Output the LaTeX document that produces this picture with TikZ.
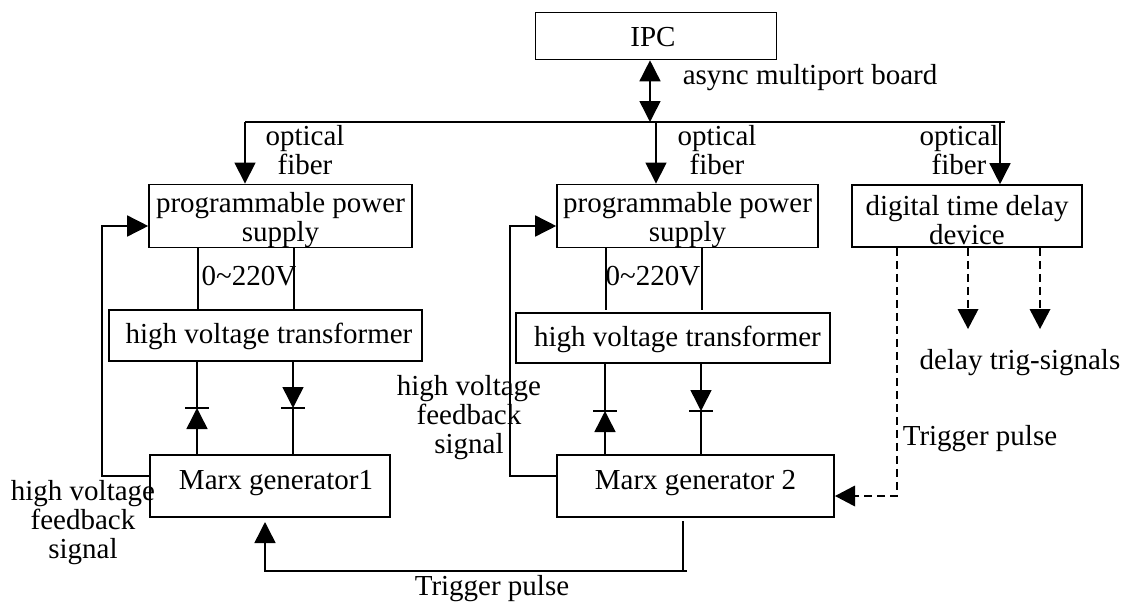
\documentclass[tikz,border=0pt]{standalone}
\usepackage{fontspec}
\setmainfont{Liberation Serif}
\usetikzlibrary{calc,arrows.meta}
\newcommand{\off}[3]{\raisebox{#2}[0pt][0pt]{\makebox[0pt][c]{\hspace*{#1}#3}}}
\newcommand{\lowfirst}{\rule{0pt}{28pt}}
\tikzset{
  x=1pt,y=-1pt,
  txt/.style={font=\fontsize{29}{29}\selectfont,inner sep=0pt,align=center},
  lbl/.style={txt,anchor=base},
  box/.style={txt,draw=black,line width=1.6pt,rectangle},
  wire/.style={draw=black,line width=1.5pt},
  tip/.style={-{Triangle[length=21pt,width=21pt]}},
  dtip/.style={{Triangle[length=21pt,width=21pt]}-{Triangle[length=21pt,width=21pt]}},
  dashwire/.style={wire,dash pattern=on 8pt off 5pt},
}
\begin{document}
\begin{tikzpicture}
\useasboundingbox (0,0) rectangle (1123,602);
\node[box,minimum width=241,minimum height=47] (ipc) at (656,36) {\off{-6pt}{-11pt}{IPC}};
\node[box,minimum width=263,minimum height=62] (p1) at (280.5,216) {\lowfirst programmable power\\supply};
\node[box,minimum width=261,minimum height=62] (p2) at (687.5,216) {\lowfirst programmable power\\supply};
\node[box,minimum width=230,minimum height=62] (d) at (967,216) {\lowfirst digital time delay\\device};
\node[box,minimum width=313,minimum height=51] (t1) at (265.5,335.5) {\off{7pt}{-8pt}{high voltage transformer}};
\node[box,minimum width=314,minimum height=50] (t2) at (673,338) {\off{9pt}{-8pt}{high voltage transformer}};
\node[box,minimum width=240,minimum height=62] (m1) at (270,486) {\off{12pt}{-3pt}{Marx generator1}};
\node[box,minimum width=277,minimum height=62] (m2) at (695.5,486) {\off{0pt}{-3pt}{Marx generator 2}};
% free points
\coordinate (busL) at (245,122);
\coordinate (busR) at (1005,122);
\coordinate (busM) at (650,122);
\coordinate (b2) at (656,122);
\coordinate (b3) at (1000,122);
\draw[wire] (busL) -- (busR);
\draw[wire,dtip] (ipc.south -| busM) -- (busM);
\draw[wire,tip] (busL) -- (busL |- p1.north);
\draw[wire,tip] (b2) -- (b2 |- p2.north);
\draw[wire,tip] (b3) -- (b3 |- d.north);
% supply wires
\coordinate (p1ax) at (198,0);
\coordinate (p1bx) at (294,0);
\coordinate (p2ax) at (606,310);
\coordinate (p2bx) at (702,310);
\draw[wire] (p1ax |- p1.south) -- (p1ax |- t1.north);
\draw[wire] (p1bx |- p1.south) -- (p1bx |- t1.north);
\draw[wire] (p2ax |- p2.south) -- (p2ax);
\draw[wire] (p2bx |- p2.south) -- (p2bx);
% diodes: left ones point up, right ones point down
\coordinate (du1) at (197,408);
\coordinate (dd1) at (293,408);
\coordinate (du2) at (605,411);
\coordinate (dd2) at (701,411);
\draw[wire,tip] (du1 |- m1.north) -- (du1);
\draw[wire] (du1) -- (du1 |- t1.south);
\draw[wire,tip] (dd1 |- t1.south) -- (dd1);
\draw[wire] (dd1) -- (dd1 |- m1.north);
\draw[wire,tip] (du2 |- m2.north) -- (du2);
\draw[wire] (du2) -- (du2 |- t2.south);
\draw[wire,tip] (dd2 |- t2.south) -- (dd2);
\draw[wire] (dd2) -- (dd2 |- m2.north);
\draw[wire] ($(du1)+(-12,0)$) -- ($(du1)+(12,0)$);
\draw[wire] ($(dd1)+(-12,0)$) -- ($(dd1)+(12,0)$);
\draw[wire] ($(du2)+(-12,0)$) -- ($(du2)+(12,0)$);
\draw[wire] ($(dd2)+(-12,0)$) -- ($(dd2)+(12,0)$);
% feedback
\coordinate (fb1) at (102,476);
\coordinate (fb1t) at (102,226);
\coordinate (fb2) at (510,476);
\coordinate (fb2t) at (510,226);
\draw[wire,tip] (m1.west |- fb1) -- (fb1) -- (fb1t) -- (p1.west |- fb1t);
\draw[wire,tip] (m2.west |- fb2) -- (fb2) -- (fb2t) -- (p2.west |- fb2t);
% trigger
\coordinate (tr) at (683,571);
\coordinate (trS) at (683,521);
\coordinate (trL) at (265,571);
\coordinate (trH) at (265,522);
\coordinate (trE) at (687,571);
\draw[wire] (trS) -- (tr);
\draw[wire,tip] (trE) -- (trL) -- (trH);
% dashed
\coordinate (dx1) at (897,496);
\coordinate (dx2) at (968,329);
\coordinate (dx3) at (1040,329);
\coordinate (dxs2) at (968,309);
\coordinate (dxs3) at (1040,309);
\coordinate (m2r) at (835,496);
\coordinate (m2s) at (855,496);
\draw[dashwire] (dx1 |- d.south) -- (dx1) -- (m2s);
\fill[black] (m2r) -- ($(m2s)+(0,-10.5)$) -- ($(m2s)+(0,10.5)$) -- cycle;
\draw[dashwire] (dx2 |- d.south) -- (dxs2);
\draw[dashwire] (dx3 |- d.south) -- (dxs3);
\fill[black] (dx2) -- ($(dxs2)+(-10.5,0)$) -- ($(dxs2)+(10.5,0)$) -- cycle;
\fill[black] (dx3) -- ($(dxs3)+(-10.5,0)$) -- ($(dxs3)+(10.5,0)$) -- cycle;
% labels
\node[lbl] (l0) at (810,84) {async multiport board};
\node[lbl] (o1) at (305,174) {optical\\fiber};
\node[lbl] (o2) at (717,174) {optical\\fiber};
\node[lbl] (o3) at (959,174) {optical\\fiber};
\node[lbl] (v1) at (249,285) {0\textasciitilde220V};
\node[lbl] (v2) at (653,285) {0\textasciitilde220V};
\node[lbl] (f1) at (83,558) {high voltage\\feedback\\signal};
\node[lbl] (f2) at (469,453) {high voltage\\feedback\\signal};
\node[lbl] (tp1) at (492,595) {Trigger pulse};
\node[lbl] (tp2) at (980,445) {Trigger pulse};
\node[lbl] (ds) at (1020,369) {delay trig-signals};
\end{tikzpicture}
\end{document}
